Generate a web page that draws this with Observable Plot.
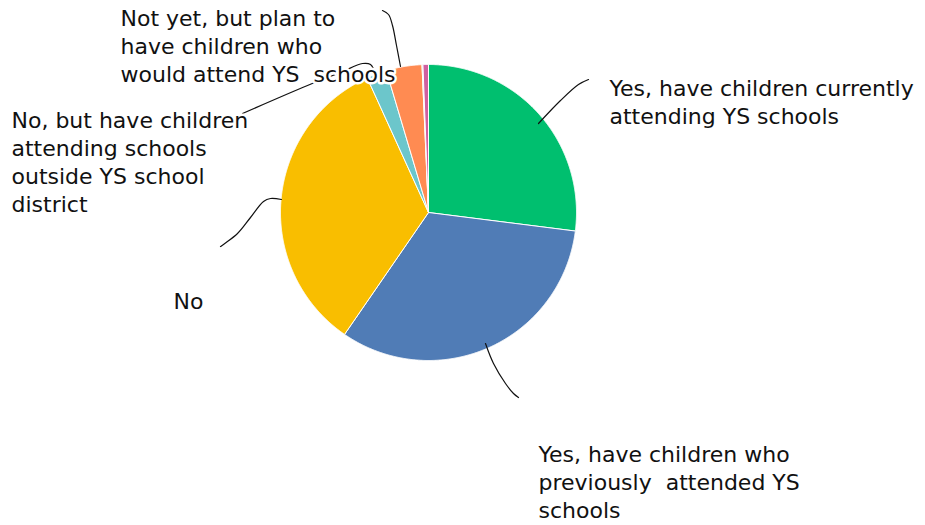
<!DOCTYPE html>
<html><head><meta charset="utf-8">
<script src="https://cdn.jsdelivr.net/npm/d3@7"></script>
<script src="https://cdn.jsdelivr.net/npm/@observablehq/plot@0.6"></script>
<style>body{margin:0;background:#fff;overflow:hidden}</style>
</head><body><div id="chart"></div>
<script>
// ---- data ----
const categories = [
  "Yes, have children currently attending YS schools",
  "Yes, have children who previously attended YS schools",
  "No",
  "No, but have children attending schools outside YS school district",
  "Not yet, but plan to have children who would attend YS schools",
  "Other A",
  "Other B"
];
const values = [27.0, 32.6, 33.6, 2.2, 3.9, 0.1, 0.6];
const colors = ["#00bf6f", "#507cb6", "#f9be00", "#6cc6cb", "#ff8b52", "#b79ac4", "#d05fa0"];
const labelTexts = [
  "Yes, have children currently\nattending YS schools",
  "Yes, have children who\npreviously  attended YS\nschools",
  "No",
  "No, but have children\nattending schools\noutside YS school\ndistrict",
  "Not yet, but plan to\nhave children who\nwould attend YS  schools"
];

// ---- layout ----
const W = 925, H = 525;
const cx = 428, cy = 212, R = 148;
const fontSize = 22;
const labelPos = [ // top of first line
  {x: 609, y: 75}, {x: 538, y: 441}, {x: 173, y: 288}, {x: 11, y: 107}, {x: 120, y: 5}
];
const leaders = [
  [[538,123],[560,100],[578,84],[588,79]],
  [[485,343],[493,363],[505,383],[513,393],[518,397]],
  [[281,199],[270,198],[263,201],[250,217],[237,233],[220,246]],
  [[242,113],[307,85],[340,72],[362,63],[370,64],[376,76]],
  [[382,10],[388,14],[392,25],[396,45],[400,66]]
];

// ---- build slices ----
const arcs = d3.pie().sort(null).value(d => d)(values);
const slicePts = [];
arcs.forEach((a, i) => {
  const cat = categories[i];
  slicePts.push({cat, x: cx, y: cy});
  const n = Math.max(2, Math.ceil((a.endAngle - a.startAngle) / 0.004));
  for (let k = 0; k <= n; k++) {
    const t = a.startAngle + (a.endAngle - a.startAngle) * k / n;
    slicePts.push({cat, x: cx + R * Math.sin(t), y: cy - R * Math.cos(t)});
  }
  slicePts.push({cat, x: cx, y: cy});
});
const leaderPts = leaders.flatMap((pts, i) => pts.map(([x, y]) => ({id: i, x, y})));
const labelData = labelTexts.map((t, i) => ({text: t, x: labelPos[i].x, y: labelPos[i].y}));

const chart = Plot.plot({
  width: W, height: H,
  margin: 0,
  style: {fontFamily: "DejaVu Sans", background: "#fff"},
  x: {domain: [0, W], range: [0, W], axis: null},
  y: {domain: [0, H], range: [0, H], axis: null},
  color: {domain: categories, range: colors},
  marks: [
    Plot.line(slicePts, {x: "x", y: "y", z: "cat", fill: "cat", stroke: "white", strokeWidth: 1, curve: "linear"}),
    Plot.line(leaderPts, {x: "x", y: "y", z: "id", stroke: "#111", strokeWidth: 1.2, curve: "catmull-rom"}),
    Plot.text(labelData, {x: "x", y: "y", text: "text", textAnchor: "start", lineAnchor: "top",
      lineHeight: 1.28, fontSize: fontSize, fill: "#111", stroke: "white", strokeWidth: 5})
  ]
});
document.getElementById("chart").appendChild(chart);
</script>
</body></html>
